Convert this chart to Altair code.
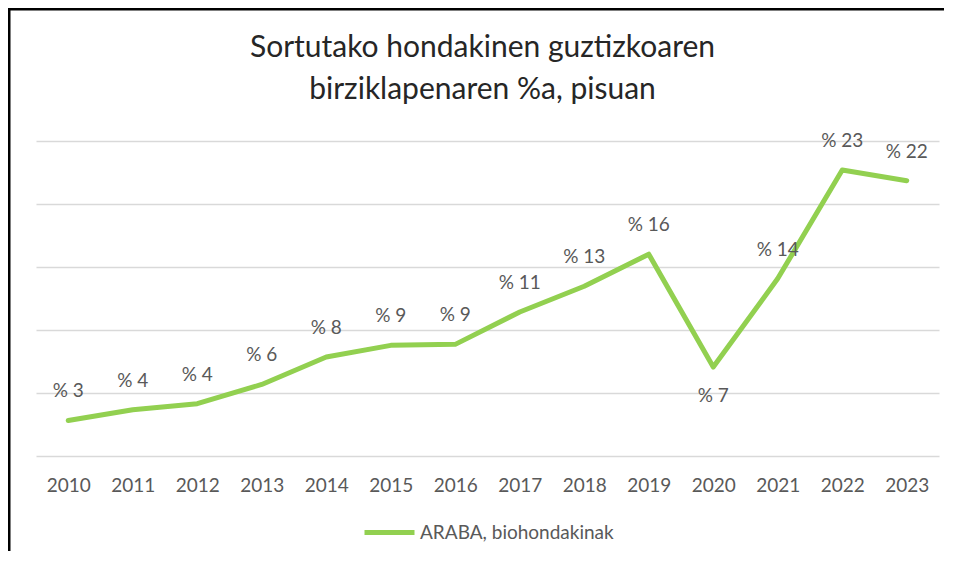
import altair as alt
import pandas as pd

# ---- data ----
years = [str(y) for y in range(2010, 2024)]
values = [2.82, 3.67, 4.15, 5.68, 7.86, 8.78, 8.86, 11.43, 13.47, 16.02, 7.06, 14.08, 22.7, 21.85]
series_name = "ARABA, biohondakinak"
grid_values = [0, 5, 10, 15, 20, 25]
title_lines = ["Sortutako hondakinen guztizkoaren", "birziklapenaren %a, pisuan"]
below_years = ["2020"]

df = pd.DataFrame({"year": years, "value": values, "series": [series_name] * len(years)})

GREEN = "#92D050"
GREY = "#595959"
FONT = "Lato"

x = alt.X(
    "year:O",
    sort=years,
    scale=alt.Scale(padding=0.5),
    axis=alt.Axis(
        title=None, labelAngle=0, domain=False, ticks=False, tickSize=0,
        labelFontSize=19, labelColor=GREY, labelFont=FONT, labelPadding=20, grid=False,
    ),
)
y = alt.Y(
    "value:Q",
    scale=alt.Scale(domain=[0, 25], nice=False, zero=True),
    axis=alt.Axis(
        title=None, values=grid_values, labels=False, ticks=False, domain=False,
        grid=True, gridColor="#d9d9d9", gridWidth=1.5,
    ),
)

base = alt.Chart(df)

line = base.mark_line(strokeWidth=5, strokeCap="round", strokeJoin="round").encode(
    x=x,
    y=y,
    color=alt.Color(
        "series:N",
        scale=alt.Scale(range=[GREEN]),
        legend=alt.Legend(
            title=None, orient="none", legendX=326, legendY=364,
            direction="horizontal",
            symbolType="stroke", symbolStrokeWidth=5, symbolSize=2500,
            symbolStrokeColor=GREEN,
            labelFontSize=19, labelFont=FONT, labelColor=GREY, labelOffset=3,
            labelLimit=500,
        ),
    ),
)

labelled = base.transform_calculate(label="'% ' + format(datum.value, '.0f')")
below_test = alt.FieldOneOfPredicate(field="year", oneOf=below_years)

above = labelled.transform_filter(~below_test).mark_text(
    dy=-29, fontSize=19, font=FONT, color=GREY
).encode(x=x, y=y, text="label:N")

below = labelled.transform_filter(below_test).mark_text(
    dy=29, fontSize=19, font=FONT, color=GREY
).encode(x=x, y=y, text="label:N")

one = alt.Chart(pd.DataFrame({"k": [0]}))
frame_left = one.mark_rule(color="black", strokeWidth=2.5).encode(
    x=alt.value(-26.75), y=alt.value(-132), y2=alt.value(420)
)
frame_top = one.mark_rule(color="black", strokeWidth=2.5).encode(
    x=alt.value(-28), x2=alt.value(920), y=alt.value(-131.75)
)

chart = (
    alt.layer(line, above, below, frame_left, frame_top)
    .properties(
        width=903,
        height=315,
        title=alt.TitleParams(
            text=title_lines, fontSize=30, font=FONT, color="#262626",
            fontWeight="normal", anchor="middle", baseline="bottom",
            frame="group", offset=-127, lineHeight=42, dx=-5,
        ),
        autosize=alt.AutoSizeParams(type="none"),
        padding={"left": 28, "top": 133, "right": 5, "bottom": 95},
    )
    .configure_view(strokeWidth=0)
)

chart.save("out.html", embed_options={"renderer": "svg", "actions": False})
